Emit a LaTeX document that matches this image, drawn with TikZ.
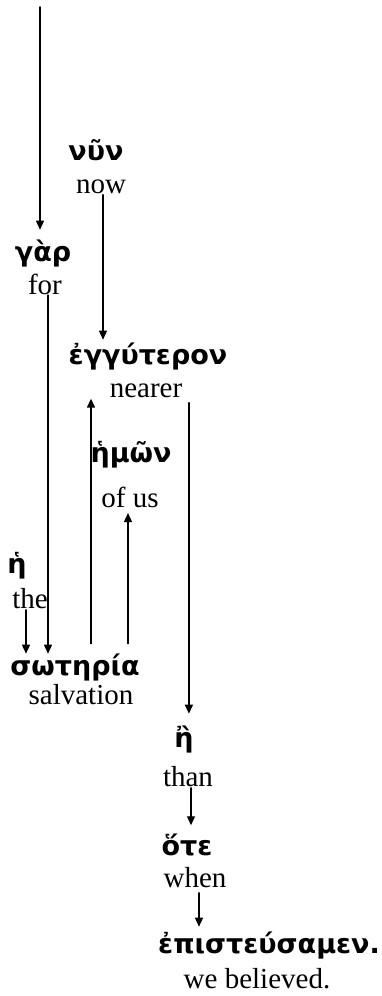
\documentclass[tikz,border=0pt]{standalone}
\usepackage{fontspec}
\setmainfont{Liberation Serif}
\newfontfamily\grfont{DejaVu Sans}
\usetikzlibrary{arrows.meta}
\begin{document}
\begin{tikzpicture}[x=1pt, y=-1pt, line width=1.4pt, line join=round, line cap=round,
	>={Triangle[length=9pt,width=8pt]},
	gr/.style={font=\grfont\bfseries\fontsize{27}{32}\selectfont, inner sep=0pt},
	en/.style={font=\fontsize{29}{34}\selectfont, inner sep=0pt}]
	\useasboundingbox (0,0) rectangle (381,996);
	% words, Greek over English
	\node[gr] (gar) at (43,254) {γὰρ};
	\node[en] (for) at (45,284) {for};
	\node[gr] (nun) at (96,150) {νῦν};
	\node[en] (now) at (101,187) {now};
	\node[gr] (egg) at (148,357) {ἐγγύτερον};
	\node[en] (nearer) at (146,391) {nearer};
	\node[gr] (hmon) at (131,455) {ἡμῶν};
	\node[en] (ofus) at (130,497) {of us};
	\node[gr] (he) at (17,566) {ἡ};
	\node[en] (the) at (30,599) {the};
	\node[gr] (sot) at (75,668) {σωτηρία};
	\node[en] (salv) at (81,695) {salvation};
	\node[gr] (ee) at (184,740) {ἢ};
	\node[en] (than) at (188,777) {than};
	\node[gr] (ote) at (187,845) {ὅτε};
	\node[en] (when) at (195,878) {when};
	\node[gr] (epi) at (269,946) {ἐπιστεύσαμεν.};
	\node[en] (bel) at (257,979) {we believed.};
	\coordinate (top) at (40,7);
	% connectors
	\draw[->, shorten >=10pt] (top) -- (top |- gar.north);
	\draw[->, shorten >=3pt] ([xshift=2pt]now.south) -- ([xshift=2pt]now.south |- egg.north);
	\draw[->] ([xshift=3pt]for.south) -- ([xshift=3pt]for.south |- sot.north);
	\draw[->] ([xshift=-4pt]the.south) -- ([xshift=-4pt]the.south |- sot.north);
	\draw[->, shorten <=10pt] ([xshift=16pt]sot.north) -- ([xshift=16pt]sot.north |- nearer.south);
	\draw[->, shorten <=10pt, shorten >=5pt] ([xshift=53pt]sot.north) -- ([xshift=53pt]sot.north |- ofus.south);
	\draw[->, shorten <=4pt, shorten >=12pt] ([xshift=6pt]nearer.south east) -- ([xshift=6pt]nearer.south east |- ee.north);
	\draw[->, shorten >=8pt] ([xshift=3pt]than.south) -- ([xshift=3pt]than.south |- ote.north);
	\draw[->, shorten <=4pt, shorten >=5pt] ([xshift=4pt]when.south) -- ([xshift=4pt]when.south |- epi.north);
\end{tikzpicture}
\end{document}
